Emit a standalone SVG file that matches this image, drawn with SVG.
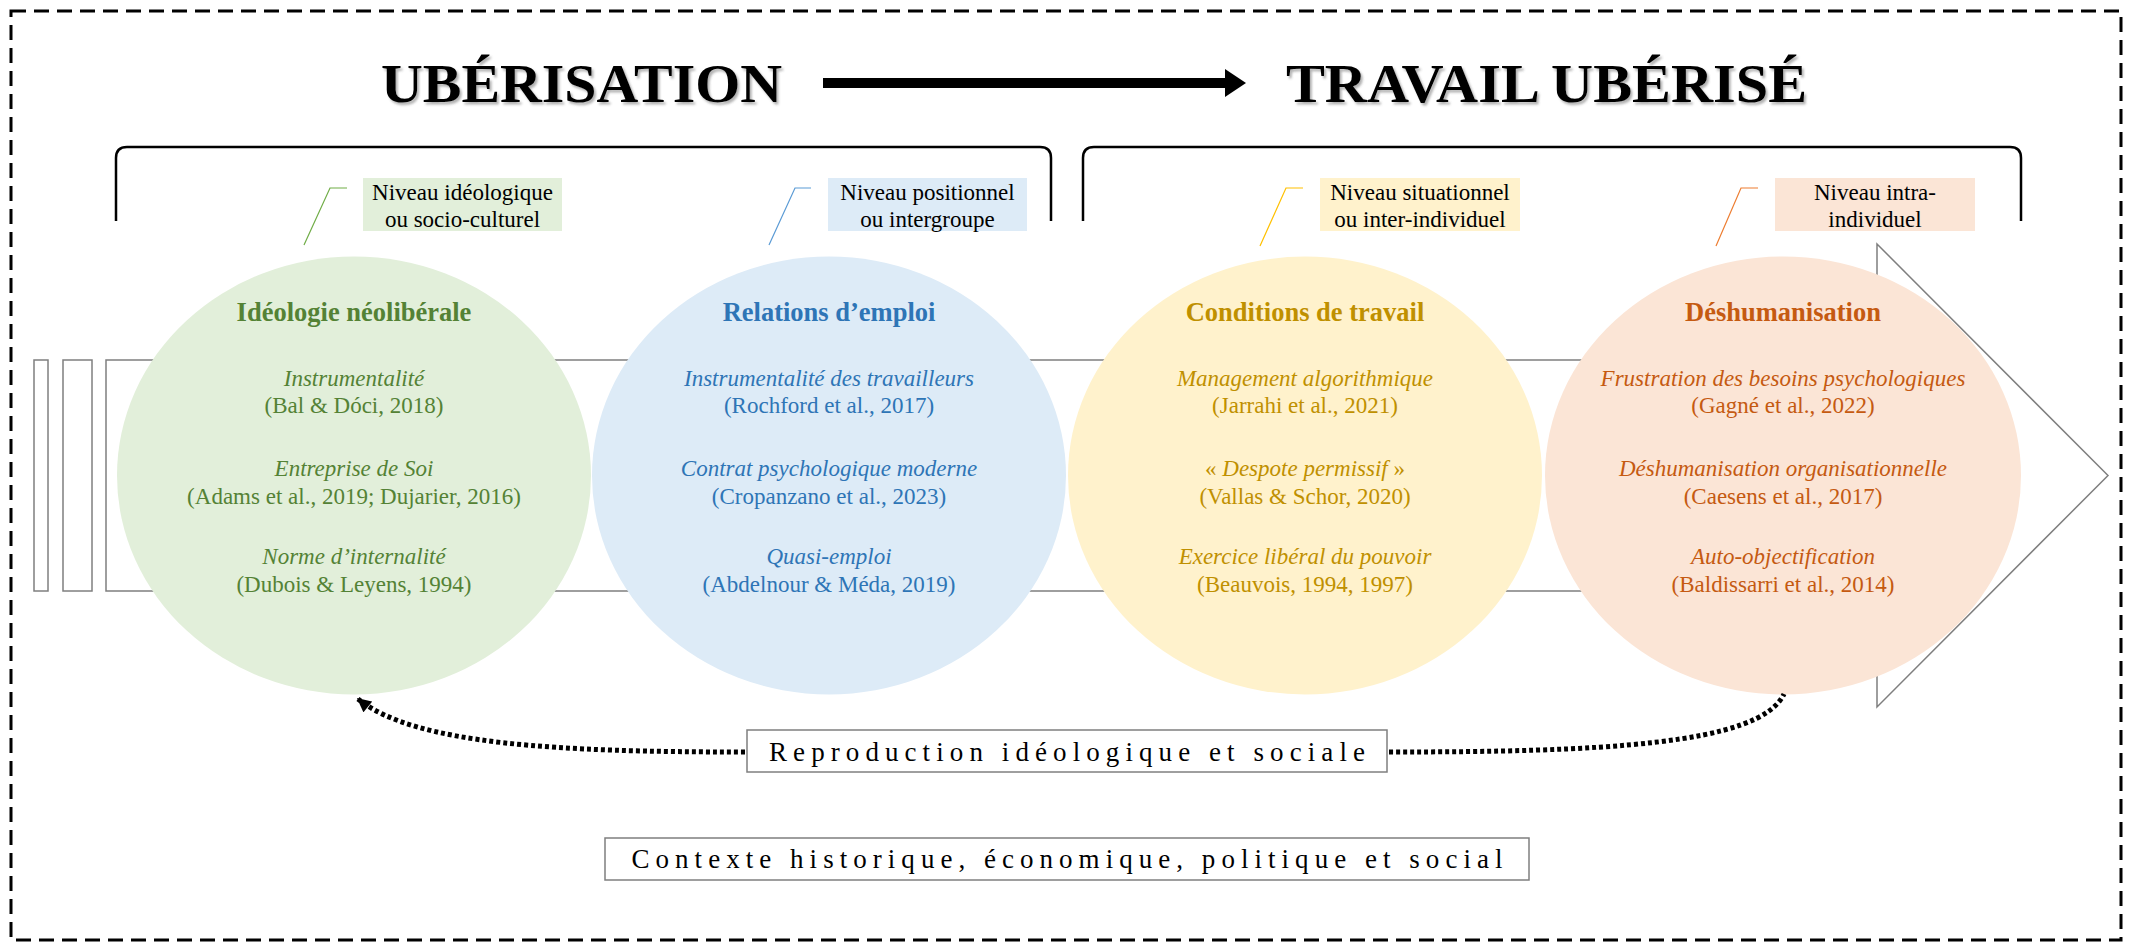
<svg xmlns="http://www.w3.org/2000/svg" width="2133" height="944" viewBox="0 0 2133 944">
<defs>
<style>
text{font-family:"Liberation Serif","Times New Roman",serif}
.title{font-weight:bold;font-size:55px;fill:#000}
.lvl{font-size:23px;fill:#000;text-anchor:middle}
.head{font-weight:bold;font-size:26.5px;text-anchor:middle}
.t{font-size:23px;text-anchor:middle}
.it{font-style:italic}
.outline{fill:none;stroke:#7f7f7f;stroke-width:1.5}
.dot{fill:none;stroke:#000;stroke-width:5;stroke-dasharray:4 3}
.box{fill:#fff;stroke:#7f7f7f;stroke-width:1.5}
.brace{fill:none;stroke:#000;stroke-width:2.5}
.green{fill:#548235}.blue{fill:#2E75B6}.yellow{fill:#BF9000}.orange{fill:#C55A11}
.callout{fill:none;stroke-width:1.2}
.bottom{font-size:27px;fill:#000;text-anchor:middle}
</style>
<filter id="sh" x="-5%" y="-20%" width="110%" height="150%">
<feDropShadow dx="2" dy="2.5" stdDeviation="1.3" flood-color="#555" flood-opacity="0.45"/>
</filter>
<marker id="ah" viewBox="0 0 10 10" refX="9" refY="5" markerWidth="15" markerHeight="14" markerUnits="userSpaceOnUse" orient="auto">
<path d="M0,0 L10,5 L0,10 Z" fill="#000"/>
</marker>
</defs>

<rect id="frame" x="11" y="11" width="2110" height="929" fill="none" stroke="#000" stroke-width="3" stroke-dasharray="15 8"/>

<g id="titles">
<text class="title" x="381" y="102" textLength="401" lengthAdjust="spacingAndGlyphs" filter="url(#sh)">UBÉRISATION</text>
<g id="title-arrow">
<rect x="823" y="78" width="406" height="10" fill="#000"/>
<polygon points="1225,69 1246,83 1225,97" fill="#000"/>
</g>
<text class="title" x="1286" y="102" textLength="521" lengthAdjust="spacingAndGlyphs" filter="url(#sh)">TRAVAIL UBÉRISÉ</text>
</g>

<g id="brackets">
<path class="brace" d="M116,221 V158 Q116,147 127,147 H1040 Q1051,147 1051,158 V221"/>
<path class="brace" d="M1083,221 V158 Q1083,147 1094,147 H2010 Q2021,147 2021,158 V221"/>
</g>

<g id="big-arrow">
<rect class="outline" x="34" y="360" width="14" height="231"/>
<rect class="outline" x="63" y="360" width="29" height="231"/>
<path class="outline" d="M106,360 H1877 V244 L2108,475.5 L1877,707 V591 H106 Z"/>
</g>

<g id="node-ideologie">
<ellipse cx="354" cy="475.5" rx="237" ry="219" fill="#E2EFDA"/>
<text class="head green" x="354" y="321">Idéologie néolibérale</text>
<text class="t green it" x="354" y="386">Instrumentalité</text>
<text class="t green" x="354" y="413">(Bal &amp; Dóci, 2018)</text>
<text class="t green it" x="354" y="476">Entreprise de Soi</text>
<text class="t green" x="354" y="504">(Adams et al., 2019; Dujarier, 2016)</text>
<text class="t green it" x="354" y="564">Norme d’internalité</text>
<text class="t green" x="354" y="592">(Dubois &amp; Leyens, 1994)</text>
</g>

<g id="node-relations">
<ellipse cx="829" cy="475.5" rx="237" ry="219" fill="#DDEBF7"/>
<text class="head blue" x="829" y="321">Relations d’emploi</text>
<text class="t blue it" x="829" y="386">Instrumentalité des travailleurs</text>
<text class="t blue" x="829" y="413">(Rochford et al., 2017)</text>
<text class="t blue it" x="829" y="476">Contrat psychologique moderne</text>
<text class="t blue" x="829" y="504">(Cropanzano et al., 2023)</text>
<text class="t blue it" x="829" y="564">Quasi-emploi</text>
<text class="t blue" x="829" y="592">(Abdelnour &amp; Méda, 2019)</text>
</g>

<g id="node-conditions">
<ellipse cx="1305" cy="475.5" rx="237" ry="219" fill="#FFF2CC"/>
<text class="head yellow" x="1305" y="321">Conditions de travail</text>
<text class="t yellow it" x="1305" y="386">Management algorithmique</text>
<text class="t yellow" x="1305" y="413">(Jarrahi et al., 2021)</text>
<text class="t yellow" x="1305" y="476">« <tspan class="it">Despote permissif</tspan> »</text>
<text class="t yellow" x="1305" y="504">(Vallas &amp; Schor, 2020)</text>
<text class="t yellow it" x="1305" y="564">Exercice libéral du pouvoir</text>
<text class="t yellow" x="1305" y="592">(Beauvois, 1994, 1997)</text>
</g>

<g id="node-deshumanisation">
<ellipse cx="1783" cy="475.5" rx="238" ry="219" fill="#FBE5D6"/>
<text class="head orange" x="1783" y="321">Déshumanisation</text>
<text class="t orange it" x="1783" y="386">Frustration des besoins psychologiques</text>
<text class="t orange" x="1783" y="413">(Gagné et al., 2022)</text>
<text class="t orange it" x="1783" y="476">Déshumanisation organisationnelle</text>
<text class="t orange" x="1783" y="504">(Caesens et al., 2017)</text>
<text class="t orange it" x="1783" y="564">Auto-objectification</text>
<text class="t orange" x="1783" y="592">(Baldissarri et al., 2014)</text>
</g>

<g id="level-ideologique">
<rect x="363" y="178" width="199" height="53" fill="#E2EFDA"/>
<text class="lvl" x="462.5" y="200">Niveau idéologique</text>
<text class="lvl" x="462.5" y="227">ou socio-culturel</text>
</g>
<g id="level-positionnel">
<rect x="828" y="178" width="199" height="53" fill="#DDEBF7"/>
<text class="lvl" x="927.5" y="200">Niveau positionnel</text>
<text class="lvl" x="927.5" y="227">ou intergroupe</text>
</g>
<g id="level-situationnel">
<rect x="1320" y="178" width="200" height="53" fill="#FFF2CC"/>
<text class="lvl" x="1420" y="200">Niveau situationnel</text>
<text class="lvl" x="1420" y="227">ou inter-individuel</text>
</g>
<g id="level-intra">
<rect x="1775" y="178" width="200" height="53" fill="#FBE5D6"/>
<text class="lvl" x="1875" y="200">Niveau intra-</text>
<text class="lvl" x="1875" y="227">individuel</text>
</g>

<g id="reproduction">
<rect class="box" x="747" y="730" width="640" height="42"/>
<text class="bottom" x="1067" y="761" textLength="596" lengthAdjust="spacing">Reproduction idéologique et sociale</text>
</g>
<g id="contexte">
<rect class="box" x="605" y="838" width="924" height="42"/>
<text class="bottom" x="1067" y="868" textLength="871" lengthAdjust="spacing">Contexte historique, économique, politique et social</text>
</g>

<g id="connectors">
<polyline class="callout" stroke="#70AD47" points="304,245 330,188 347,188"/>
<polyline class="callout" stroke="#5B9BD5" points="769,245 795,188 811,188"/>
<polyline class="callout" stroke="#FFC000" points="1260,246 1286,188 1303,188"/>
<polyline class="callout" stroke="#ED7D31" points="1716,246 1741,188 1758,188"/>
<path class="dot" d="M745,752 C560,752 415,745 358,699" marker-end="url(#ah)"/>
<path class="dot" d="M1389,752 C1600,752 1760,745 1784,694"/>
</g>
</svg>
